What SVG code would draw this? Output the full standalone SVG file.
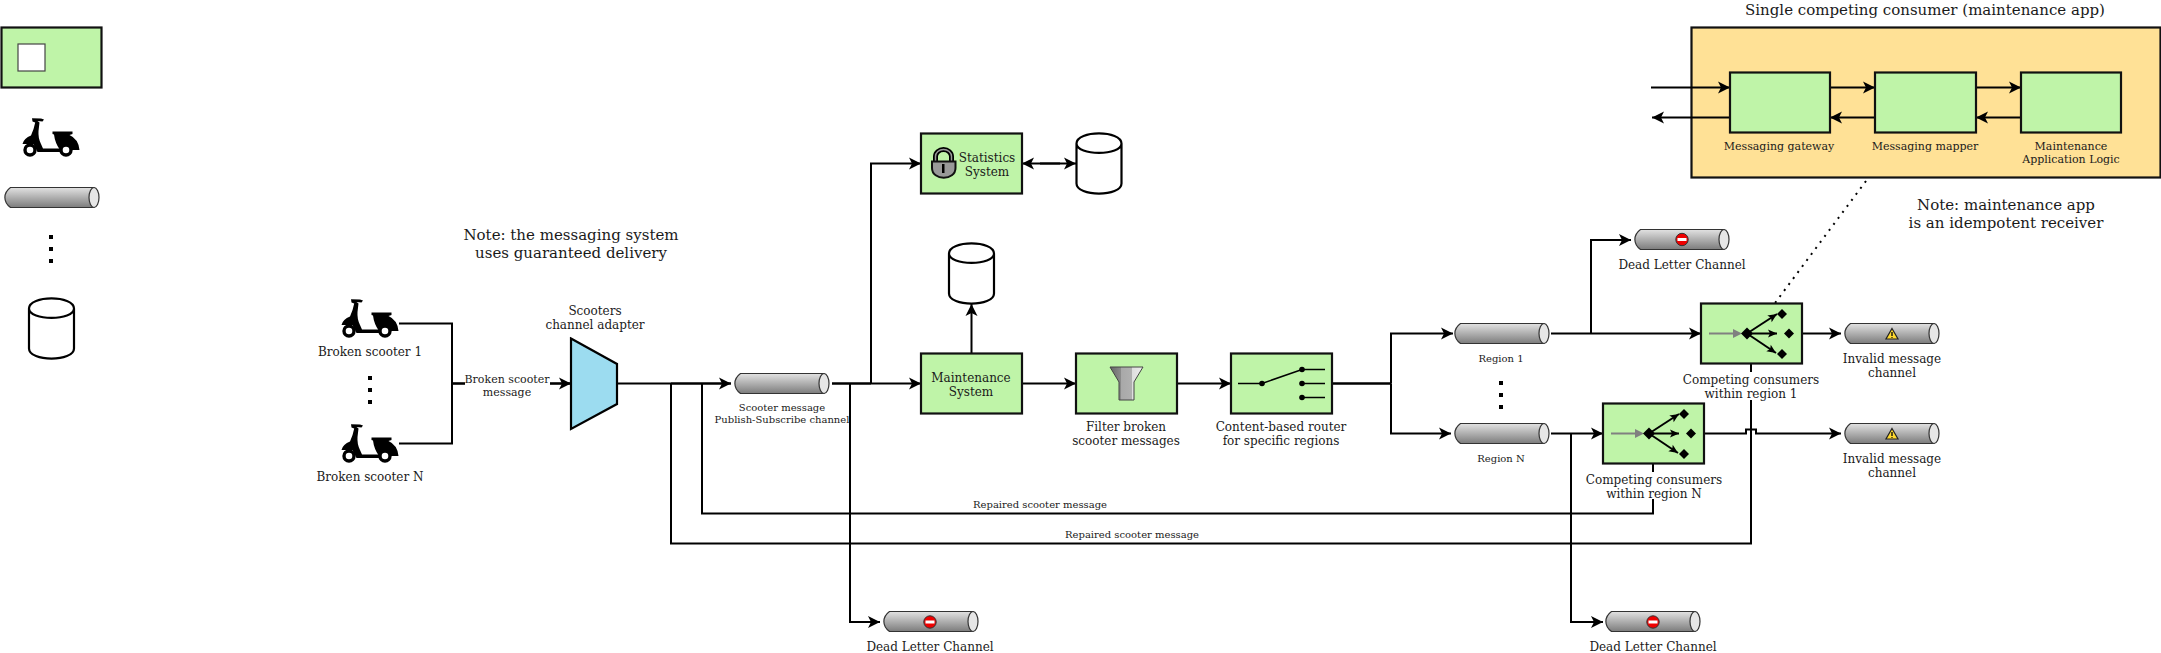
<svg xmlns="http://www.w3.org/2000/svg" xmlns:xlink="http://www.w3.org/1999/xlink" width="2161" height="653" viewBox="0 0 2161 653">
<style>
text{font-family:"DejaVu Serif","Liberation Serif",serif;fill:#1a1a1a;text-anchor:middle;transform:translateY(.8px)}
.t12{font-size:12px}.t11{font-size:11px}.t10{font-size:10px}.t15{font-size:15px}
.box{fill:#bff4a8;stroke:#111;stroke-width:2.200}
.ln{fill:none;stroke:#000;stroke-width:2}
.thk{fill:none;stroke:#000;stroke-width:2.600}
.db{fill:#fff;stroke:#000;stroke-width:2.200}
.arr{marker-end:url(#ah)}
.sw{fill:none;stroke:#000;stroke-width:1.600}
</style>
<defs>
<marker id="ah" markerUnits="userSpaceOnUse" markerWidth="14" markerHeight="14" refX="13" refY="7" orient="auto"><path d="M1 1L13 7L1 13L4 7Z" fill="#000"/></marker>
<marker id="ahs" markerUnits="userSpaceOnUse" markerWidth="12" markerHeight="12" refX="10" refY="6" orient="auto"><path d="M1 2L10 6L1 10L3 6Z" fill="#000"/></marker>
<linearGradient id="tg" x1="0" y1="0" x2="0" y2="1"><stop offset="0" stop-color="#e2e2e2"/><stop offset="1" stop-color="#7c7c7c"/></linearGradient>
<linearGradient id="f1" x1="0" y1="0" x2="1" y2="0"><stop offset="0" stop-color="#666"/><stop offset=".33" stop-color="#8c8c8c"/><stop offset=".34" stop-color="#a8a8a8"/><stop offset=".66" stop-color="#b0b0b0"/><stop offset=".67" stop-color="#dedede"/><stop offset="1" stop-color="#ededed"/></linearGradient>
<g id="tube"><path d="M6.500 0.500H90V20.500H6.500C-1 15-1 6 6.500 0.500Z" fill="url(#tg)" stroke="#333" stroke-width="1.200"/><ellipse cx="90" cy="10.500" rx="5" ry="10" fill="#e6e6e6" stroke="#333" stroke-width="1.200"/></g>
<g id="scooter"><path d="M10 1.200L19 1.500L22 2.600L20.500 4.500L15.500 4L17.500 5.500L16.500 14Q16 21 19 27L21 31.500L38 31.500L38 35L15.500 35L11.500 27L0.500 27Q2 21 9 18.500Q12 12 13.200 5.500L10.500 4.500Z" fill="#000"/><path d="M30.500 14.500H50.500V17L47.500 18Q56.500 22 57.500 33L38 33Q33 26 32 17.500L30.500 17Z" fill="#000"/><circle cx="8" cy="33" r="5" fill="#fff" stroke="#000" stroke-width="3.400"/><circle cx="44" cy="33" r="5" fill="#fff" stroke="#000" stroke-width="3.400"/></g>
<g id="dbs"><path class="db" d="M0 10.500V50.500C0 64 45 64 45 50.500V10.500C45-3 0-3 0 10.500C0 23 45 23 45 10.500"/></g>
<g id="stop"><circle r="6.200" fill="#ee0000" stroke="#333" stroke-width="1"/><rect x="-4.500" y="-1.500" width="9" height="3" fill="#fff"/></g>
<g id="warn"><path d="M0-5.500L6 5L-6 5Z" fill="#ffd92e" stroke="#222" stroke-width="1.200"/><path d="M0-2V2" stroke="#111" stroke-width="1.400"/><path d="M0 3V4" stroke="#111" stroke-width="1.200"/></g>
<g id="comp"><path d="M8 30.500H34" stroke="#808080" stroke-width="2" fill="none"/><path d="M32 26L41 30.500L32 35Z" fill="#808080"/><path d="M46 24.500L52 30.500L46 36.500L40 30.500Z" fill="#000"/><path d="M46 30.500L76 11" class="ln" marker-end="url(#ahs)"/><path d="M46 30.500L76 30.500" class="ln" marker-end="url(#ahs)"/><path d="M46 30.500L75 50" class="ln" marker-end="url(#ahs)"/><path d="M81 6L86 11L81 16L76 11Z" fill="#000"/><path d="M88 25.500L93 30.500L88 35.500L83 30.500Z" fill="#000"/><path d="M81 46L86 51L81 56L76 51Z" fill="#000"/></g>
<g id="vdots"><rect x="-2" y="-2" width="4" height="4" fill="#000"/><rect x="-2" y="10" width="4" height="4" fill="#000"/><rect x="-2" y="22" width="4" height="4" fill="#000"/></g>
</defs>
<rect width="2161" height="653" fill="#fff"/>

<g id="connectors">
<path class="ln" d="M399 323.500H452V443.500H399"/>
<path class="thk" d="M452 383.500H465"/>
<path class="thk arr" d="M550 383.500H571"/>
<path class="ln" d="M617 383.500H671"/>
<path class="thk arr" d="M671 383.500H731"/>
<path class="thk" d="M832 383.500H871"/>
<path class="ln arr" d="M871 383.500H921"/>
<path class="ln arr" d="M871 383.500V163.500H921"/>
<path class="ln arr" d="M850 383.500V622H880"/>
<path class="ln" d="M671 383.500V543.500H1751V400"/>
<path class="ln" d="M1751 372V364"/>
<path class="ln" d="M702 383.500V513.500H1653V499"/>
<path class="ln" d="M1653 472V464"/>
<path class="ln arr" d="M1040 163.500H1076"/>
<path class="ln arr" d="M1060 163.500H1022"/>
<path class="ln arr" d="M971.500 353V304"/>
<path class="ln arr" d="M1022 383.500H1076"/>
<path class="ln arr" d="M1177 383.500H1231"/>
<path class="thk" d="M1332 383.500H1391"/>
<path class="ln arr" d="M1391 383.500V333.500H1453"/>
<path class="ln arr" d="M1391 383.500V433.500H1451"/>
<path class="ln arr" d="M1551 333.500H1701"/>
<path class="ln arr" d="M1591 333.500V240H1631"/>
<path class="ln arr" d="M1551 433.500H1603"/>
<path class="ln arr" d="M1571 433.500V622H1603"/>
<path class="ln arr" d="M1802 333.500H1841"/>
<path class="ln arr" d="M1704 433.500H1746V429.500H1756V433.500H1841"/>
<path d="M1866 181L1775 303" fill="none" stroke="#000" stroke-width="2" stroke-dasharray="2 5.500"/>
</g>

<g id="legend">
<rect class="box" x="1.500" y="27.500" width="100" height="60"/>
<rect x="18" y="44" width="27" height="27" fill="#fff" stroke="#444" stroke-width="1.200"/>
<use xlink:href="#scooter" href="#scooter" x="22" y="117"/>
<use href="#tube" x="4" y="187"/>
<use href="#vdots" x="51" y="237"/>
<use href="#dbs" x="29" y="298"/>
</g>

<g id="note-guaranteed"><text class="t15" x="571" y="239">Note: the messaging system</text><text class="t15" x="571" y="257">uses guaranteed delivery</text></g>

<g id="scooter-1"><use href="#scooter" x="341" y="298"/><text class="t12" x="370" y="355">Broken scooter 1</text></g>
<g id="scooter-dots"><use href="#vdots" x="370" y="378"/></g>
<g id="scooter-n"><use href="#scooter" x="341" y="423"/><text class="t12" x="370" y="480">Broken scooter N</text></g>
<g id="label-broken"><text class="t11" x="507" y="382">Broken scooter</text><text class="t11" x="507" y="395">message</text></g>

<g id="adapter"><path d="M571 338.500L617 364V404L571 429Z" fill="#9cdcf0" stroke="#000" stroke-width="2.200"/><text class="t12" x="595" y="314">Scooters</text><text class="t12" x="595" y="328">channel adapter</text></g>

<g id="pubsub"><use href="#tube" x="734" y="373"/><text class="t10" x="782" y="410">Scooter message</text><text class="t10" x="782" y="422">Publish-Subscribe channel</text></g>

<g id="statistics"><rect class="box" x="921" y="133.500" width="101" height="60"/>
<path d="M935.500 162V156.500A8 7 0 0 1 951.500 156.500V162" fill="none" stroke="#000" stroke-width="5"/><path d="M935.500 162V156.500A8 7 0 0 1 951.500 156.500V162" fill="none" stroke="#9a9a9a" stroke-width="1.500"/>
<path d="M932 161.500H955.500V168C955.500 181 932 181 932 168Z" fill="#999" stroke="#111" stroke-width="2"/><rect x="942" y="164" width="2.500" height="9" fill="#000"/>
<text class="t12" x="987" y="161">Statistics</text><text class="t12" x="987" y="175">System</text></g>
<g id="db-stat"><use href="#dbs" x="1076.500" y="133"/></g>
<g id="db-maint"><use href="#dbs" x="949" y="243"/></g>
<g id="maintenance"><rect class="box" x="921" y="353.500" width="101" height="60"/><text class="t12" x="971" y="381">Maintenance</text><text class="t12" x="971" y="395">System</text></g>

<g id="filter"><rect class="box" x="1076" y="353.500" width="101" height="60"/>
<path d="M1110 367H1143L1134 382V400H1119V382Z" fill="url(#f1)" stroke="#444" stroke-width="1"/>
<text class="t12" x="1126" y="430">Filter broken</text><text class="t12" x="1126" y="444">scooter messages</text></g>

<g id="router"><rect class="box" x="1231" y="353.500" width="101" height="60"/>
<path class="sw" d="M1238 383.500H1262L1302 369.500H1325M1302 383.500H1325M1302 397.500H1325"/><circle cx="1262" cy="383.500" r="2.800"/><circle cx="1302" cy="369.500" r="2.800"/><circle cx="1302" cy="383.500" r="2.800"/><circle cx="1302" cy="397.500" r="2.800"/>
<text class="t12" x="1281" y="430">Content-based router</text><text class="t12" x="1281" y="444">for specific regions</text></g>

<g id="region-1"><use href="#tube" x="1454" y="323"/><text class="t10" x="1501" y="361">Region 1</text></g>
<g id="region-dots"><use href="#vdots" x="1501" y="383"/></g>
<g id="region-n"><use href="#tube" x="1454" y="423"/><text class="t10" x="1501" y="461">Region N</text></g>

<g id="dead-main"><use href="#tube" x="883" y="611"/><use href="#stop" x="930" y="622"/><text class="t12" x="930" y="650">Dead Letter Channel</text></g>
<g id="dead-1"><use href="#tube" x="1634" y="229"/><use href="#stop" x="1682" y="239.500"/><text class="t12" x="1682" y="268">Dead Letter Channel</text></g>
<g id="dead-n"><use href="#tube" x="1605" y="611"/><use href="#stop" x="1653" y="622"/><text class="t12" x="1653" y="650">Dead Letter Channel</text></g>

<g id="competing-1"><rect class="box" x="1701" y="303.500" width="101" height="60"/><use href="#comp" x="1701" y="303"/><text class="t12" x="1751" y="383">Competing consumers</text><text class="t12" x="1751" y="397">within region 1</text></g>
<g id="competing-n"><rect class="box" x="1603" y="403.500" width="101" height="60"/><use href="#comp" x="1603" y="403"/><text class="t12" x="1654" y="483">Competing consumers</text><text class="t12" x="1654" y="497">within region N</text></g>

<g id="invalid-1"><use href="#tube" x="1844" y="323"/><use href="#warn" x="1892" y="334"/><text class="t12" x="1892" y="362">Invalid message</text><text class="t12" x="1892" y="376">channel</text></g>
<g id="invalid-n"><use href="#tube" x="1844" y="423"/><use href="#warn" x="1892" y="434"/><text class="t12" x="1892" y="462">Invalid message</text><text class="t12" x="1892" y="476">channel</text></g>

<g id="repaired-labels"><text class="t10" x="1040" y="507">Repaired scooter message</text><text class="t10" x="1132" y="537">Repaired scooter message</text></g>

<g id="maintenance-app">
<text class="t15" x="1925" y="14">Single competing consumer (maintenance app)</text>
<rect x="1691.500" y="27.500" width="469" height="150" fill="#ffe196" stroke="#111" stroke-width="2.200"/>
<path class="ln arr" d="M1651 87.500H1730"/>
<path class="ln arr" d="M1730 117.500H1652"/>
<path class="ln arr" d="M1830 87.500H1875"/>
<path class="ln arr" d="M1875 117.500H1830"/>
<path class="ln arr" d="M1976 87.500H2021"/>
<path class="ln arr" d="M2021 117.500H1976"/>
<g id="gateway"><rect class="box" x="1730" y="72.500" width="100" height="60"/><text class="t11" x="1779" y="149">Messaging gateway</text></g>
<g id="mapper"><rect class="box" x="1875" y="72.500" width="101" height="60"/><text class="t11" x="1925" y="149">Messaging mapper</text></g>
<g id="logic"><rect class="box" x="2021" y="72.500" width="100" height="60"/><text class="t11" x="2071" y="149">Maintenance</text><text class="t11" x="2071" y="162">Application Logic</text></g>
</g>
<g id="note-idempotent"><text class="t15" x="2006" y="209">Note: maintenance app</text><text class="t15" x="2006" y="227">is an idempotent receiver</text></g>
</svg>
